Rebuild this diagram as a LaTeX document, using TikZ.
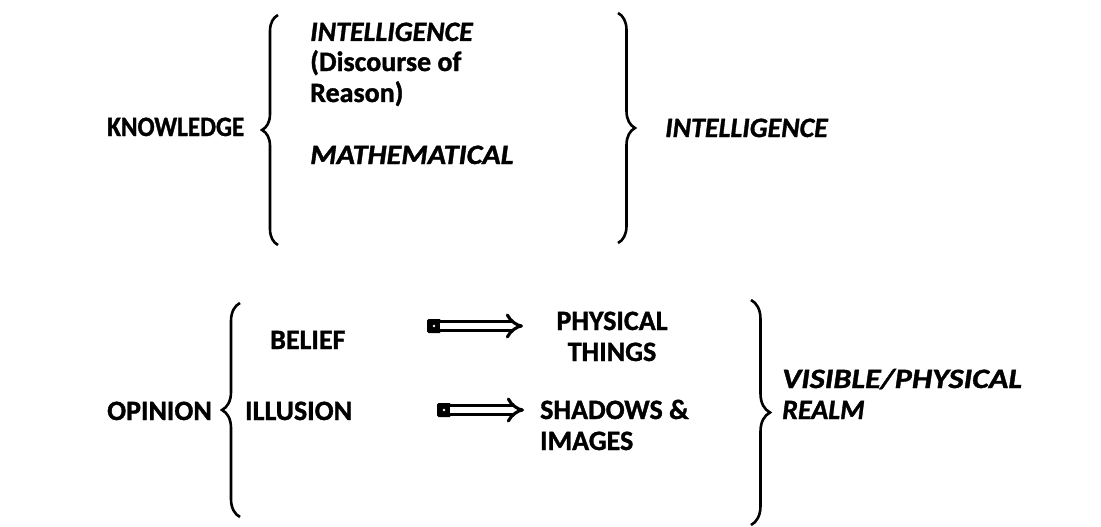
\documentclass[tikz,border=0pt]{standalone}
\usepackage{fontspec}
\setmainfont{Carlito}[BoldFeatures={FakeBold=1.2}, BoldItalicFeatures={FakeBold=1.2}]
\usetikzlibrary{arrows.meta,decorations.pathreplacing}

\begin{document}
\begin{tikzpicture}[
    x=1pt, y=-1pt,
    every node/.style={font=\fontsize{28}{31}\selectfont\bfseries, inner sep=0pt},
    term/.style={anchor=base west},
    slanted/.style={font=\fontsize{28}{31}\selectfont\bfseries\itshape},
    curly/.style={
        decorate,
        decoration={brace, amplitude=#1},
        line width=2.6pt
    },
    curly/.default=17,
    imply/.style={line width=3.1pt, double distance=5.2pt, -{Implies}}
]
    \useasboundingbox (0,0) rectangle (1101,527);

    % Knowledge
    \node[term] (knowledge) at (107,136) {\scalebox{0.9}[1]{KNOWLEDGE}};

    \coordinate (kbtop) at (278,15);
    \coordinate (kbbot) at (278,245);
    \draw[curly=16] (kbbot) -- (kbtop);

    \node[term, slanted] (intel) at (310,41) {INTELLIGENCE};
    \node[term, align=left] (discourse) at (310,102) {(Discourse of\\Reason)};
    \node[term, slanted] (math) at (310,164) {\scalebox{1.08}[1]{MATHEMATICAL}};

    \coordinate (ibtop) at (618,13);
    \coordinate (ibbot) at (618,243);
    \draw[curly] (ibtop) -- (ibbot);

    \node[term, slanted] (intelright) at (665,137) {INTELLIGENCE};

    % Opinion
    \node[term] (opinion) at (107,420) {OPINION};

    \coordinate (obtop) at (240,303);
    \coordinate (obbot) at (240,517);
    \draw[curly=18] (obbot) -- (obtop);

    \node[term] (belief) at (270,349) {BELIEF};
    \node[term] (illusion) at (245,420) {ILLUSION};

    \node[anchor=base, align=center] (physical) at (612,361) {PHYSICAL\\THINGS};
    \node[term, align=left] (shadows) at (540,450) {SHADOWS \&\\IMAGES};

    \coordinate (vbtop) at (751,300);
    \coordinate (vbbot) at (751,525);
    \draw[curly=19] (vbtop) -- (vbbot);

    \node[term, slanted, align=left] (realm) at (782,419)
        {\scalebox{1.15}[1]{VISIBLE/PHYSICAL}\\REALM};

    % Arrows
    \coordinate (a1s) at (440,326);
    \coordinate (a1e) at (523,326);
    \fill[rounded corners=1.5pt] (427,319) rectangle (441,333);
    \fill[white] (434,326) circle (1.4);
    \draw[imply] (a1s) -- (a1e);

    \coordinate (a2s) at (450,410);
    \coordinate (a2e) at (524,410);
    \fill[rounded corners=1.5pt] (437,403) rectangle (451,417);
    \fill[white] (444,410) circle (1.4);
    \draw[imply] (a2s) -- (a2e);

\end{tikzpicture}
\end{document}
